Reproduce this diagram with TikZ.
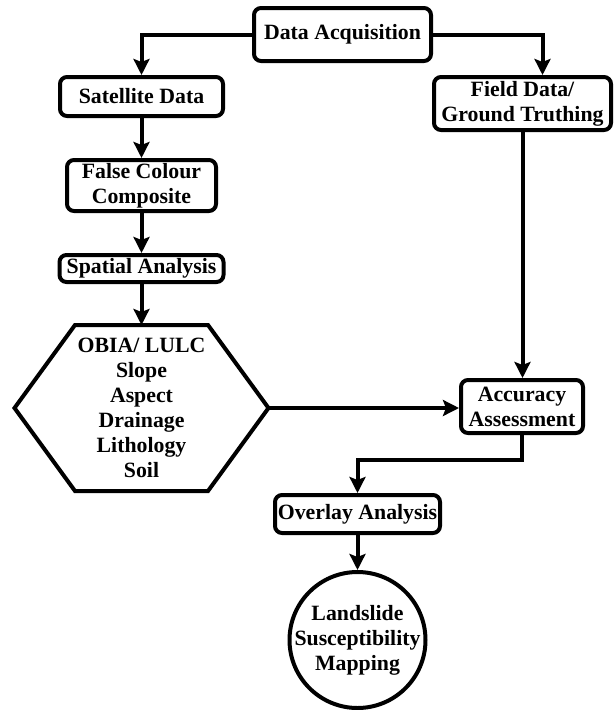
\documentclass[tikz,border=0pt]{standalone}
\usepackage{fontspec}
\setmainfont{LiberationSerif-Regular.ttf}[BoldFont=LiberationSerif-Bold.ttf]
\usetikzlibrary{arrows.meta, positioning}

\begin{document}
\begin{tikzpicture}[x=1pt, y=1pt, node distance=40pt,
    every node/.style={font=\fontsize{21.8}{25}\selectfont\bfseries,
      align=center, line width=4pt, inner sep=2pt},
    procbox/.style={draw, rounded corners=7pt},
    flow/.style={-{Stealth[length=16pt, width=16pt, inset=3pt]}, line width=4pt}]
  \useasboundingbox (0,0) rectangle (614,-710);

  \node[procbox, minimum width=177pt, minimum height=53pt] (acq)
        at (342.5,-34.5) {Data Acquisition};
  \node[procbox, minimum width=163pt, minimum height=39pt] (sat)
        at (141.5,-96.5) {Satellite Data};
  \node[procbox, minimum width=177pt, minimum height=53pt] (field)
        at (522.5,-103.5) {Field Data/\\Ground Truthing};
  \node[procbox, minimum width=149pt, minimum height=51pt, below=of sat] (fcc)
        {False Colour\\Composite};
  \node[procbox, minimum width=164pt, minimum height=27pt, below=of fcc] (spatial)
        {Spatial Analysis};
  \node[minimum width=254pt, minimum height=166pt, outer sep=0pt,
        below=41pt of spatial] (attr)
        {OBIA/ LULC\\Slope\\Aspect\\Drainage\\Lithology\\Soil};
  \node[procbox, minimum width=122pt, minimum height=53pt] (acc)
        at (522,-406.5) {Accuracy\\Assessment};
  \node[procbox, minimum width=165pt, minimum height=38pt] (overlay)
        at (357.5,-514) {Overlay Analysis};
  \node[draw, circle, minimum size=136pt, inner sep=-4pt, below=35pt of overlay] (map)
        {Landslide\\Susceptibility\\Mapping};

  % hexagon round the thematic layers
  \draw[line width=4pt] (attr.west) -- ([xshift=60.5pt]attr.north west)
    -- ([xshift=-60.5pt]attr.north east) -- (attr.east)
    -- ([xshift=-60.5pt]attr.south east) -- ([xshift=60.5pt]attr.south west) -- cycle;

  \draw[flow] (acq.west) -| (sat.north);
  \draw[flow] (acq.east) -| ([xshift=20pt]field.north);
  \draw[flow] (sat) -- (fcc);
  \draw[flow] (fcc) -- (spatial);
  \draw[flow] (spatial) -- (attr);
  \draw[flow] (field.south) -- (field.south |- acc.north);
  \draw[flow] (attr.east) -- (attr.east -| acc.west);
  \draw[flow] (acc.south) -- ++(0,-25) -| (overlay.north);
  \draw[flow] (overlay) -- (map);
\end{tikzpicture}
\end{document}
